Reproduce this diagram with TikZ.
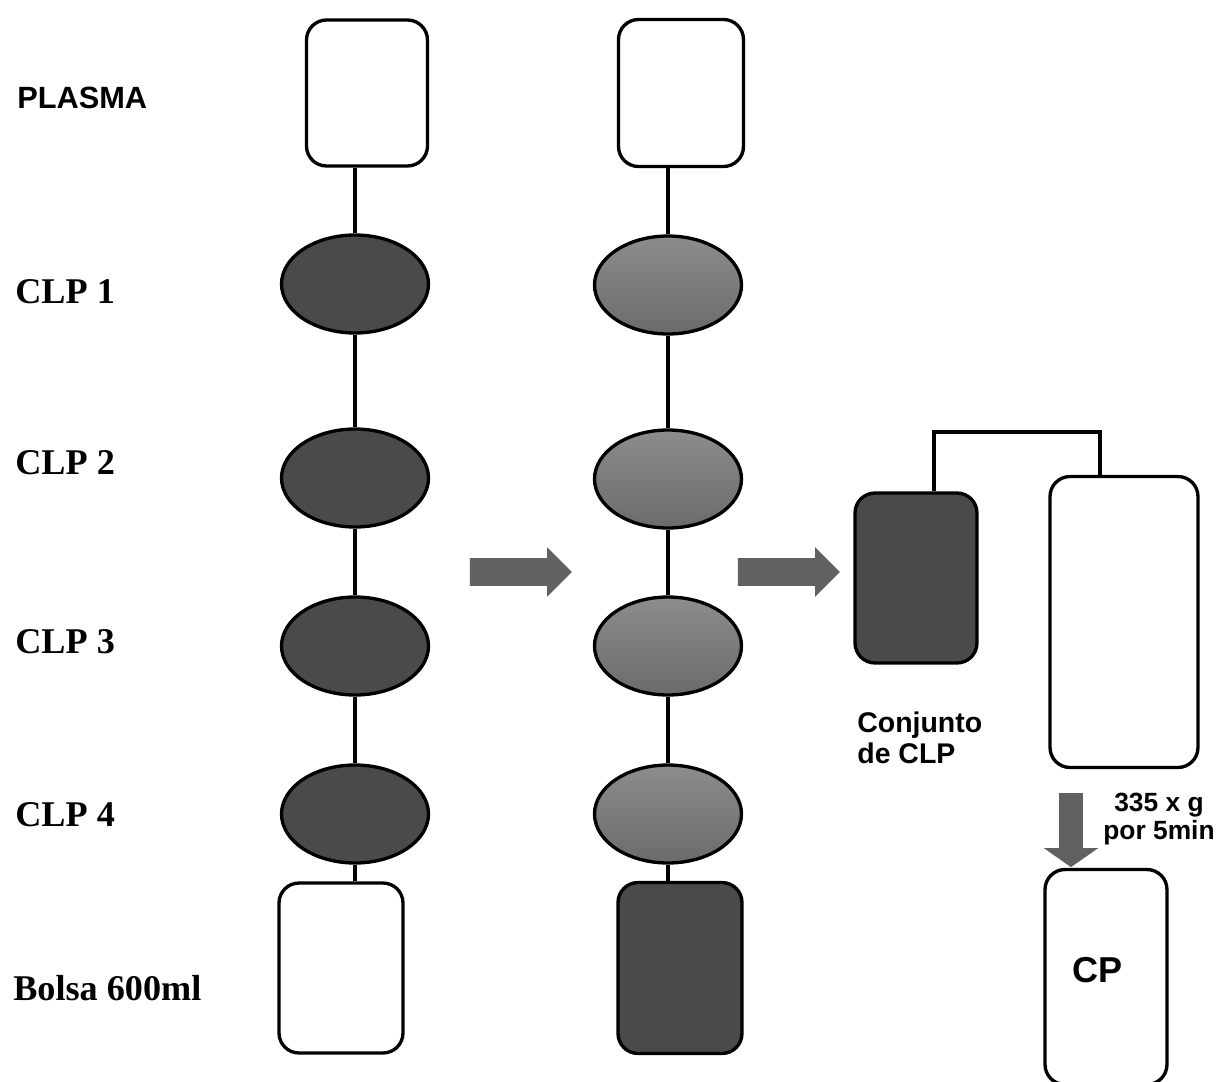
\documentclass[tikz,border=0pt]{standalone}
\usepackage{fontspec}
\setmainfont{Liberation Serif}
\setsansfont{Liberation Sans}
\usetikzlibrary{shapes.geometric,shapes.arrows}

\definecolor{clpdark}{gray}{0.29}
\definecolor{clptop}{gray}{0.55}
\definecolor{clpbottom}{gray}{0.42}
\definecolor{arrowgray}{gray}{0.38}

\tikzset{
  bag/.style={draw,line width=1.9pt,rounded corners=0.4cm,inner sep=0pt},
  clp/.style={draw,line width=1.9pt,ellipse,inner sep=0pt,
    minimum width=2.94cm,minimum height=1.96cm},
  fatarrow/.style={single arrow,fill=arrowgray,inner xsep=0pt,inner ysep=0.27cm,
    single arrow head extend=0.22cm,minimum height=2.04cm},
  rowlabel/.style={anchor=west,inner sep=0pt,font=\fontsize{20.6}{22}\selectfont\bfseries},
  tube/.style={line width=1.9pt}
}

\begin{document}
\begin{tikzpicture}[x=0.02cm,y=-0.02cm]
    \useasboundingbox (0,0) rectangle (1221,1082);

    % labels on the left
    \node[rowlabel,font=\sffamily\fontsize{17.5}{20}\selectfont\bfseries] (plasma) at (17,98) {PLASMA};
    \node[rowlabel] (clp1) at (15,292) {CLP 1};
    \node[rowlabel] (clp2) at (15,463) {CLP 2};
    \node[rowlabel] (clp3) at (15,642) {CLP 3};
    \node[rowlabel] (clp4) at (15,815) {CLP 4};
    \node[rowlabel] (bolsa) at (13,988) {Bolsa 600ml};

    % first column
    \node[bag,minimum width=2.42cm,minimum height=2.92cm] (plasmaA) at (367,93) {};
    \node[clp,fill=clpdark] (clpA1) at (355,284) {};
    \node[clp,fill=clpdark] (clpA2) at (355,478) {};
    \node[clp,fill=clpdark] (clpA3) at (355,646) {};
    \node[clp,fill=clpdark] (clpA4) at (355,814) {};
    \node[bag,minimum width=2.48cm,minimum height=3.4cm] (bolsaA) at (341,968) {};

    \draw[tube] (clpA1.north |- plasmaA.south) -- (clpA1.north);
    \draw[tube] (clpA1) -- (clpA2) -- (clpA3) -- (clpA4);
    \draw[tube] (clpA4.south) -- (clpA4.south |- bolsaA.north);

    % second column
    \node[bag,minimum width=2.5cm,minimum height=2.94cm] (plasmaB) at (681,93) {};
    \node[clp,top color=clptop,bottom color=clpbottom] (clpB1) at (668,285) {};
    \node[clp,top color=clptop,bottom color=clpbottom] (clpB2) at (668,479) {};
    \node[clp,top color=clptop,bottom color=clpbottom] (clpB3) at (668,646) {};
    \node[clp,top color=clptop,bottom color=clpbottom] (clpB4) at (668,814) {};
    \node[bag,fill=clpdark,minimum width=2.48cm,minimum height=3.42cm] (bolsaB) at (680,968) {};

    \draw[tube] (clpB1.north |- plasmaB.south) -- (clpB1.north);
    \draw[tube] (clpB1.south) -- (clpB2.north);
    \draw[tube] (clpB2.south) -- (clpB3.north);
    \draw[tube] (clpB3.south) -- (clpB4.north);
    \draw[tube] (clpB4.south) -- (clpB4.south |- bolsaB.north);

    % step arrows
    \node[fatarrow] (stepA) at (514,572) {};
    \node[fatarrow] (stepB) at (782,572) {};

    % pooling and centrifuge
    \node[bag,fill=clpdark,minimum width=2.44cm,minimum height=3.4cm] (pool) at (916,578) {};
    \node[bag,minimum width=2.96cm,minimum height=5.82cm] (big) at (1124,622) {};
    \coordinate (bend) at (934,432);
    \coordinate (drop) at (1100,432);
    \draw[tube] (pool.north -| bend) -- (bend) -- (drop) -- (drop |- big.north);

    \node[anchor=north west,inner sep=0pt,align=left,font=\sffamily\fontsize{16.2}{17.5}\selectfont\bfseries]
      (poollabel) at (857,712) {Conjunto\\de CLP};

    \node[fatarrow,rotate=-90,inner ysep=0.23cm,single arrow head extend=0.31cm,
      single arrow tip angle=110,minimum height=1.48cm] (spin) at (1071,826) {};
    \node[anchor=west,inner sep=0pt,align=center,font=\sffamily\fontsize{15}{16}\selectfont\bfseries]
      (spinlabel) at (1103,819) {335 x g\\por 5min};

    \node[bag,minimum width=2.44cm,minimum height=4.3cm] (cp) at (1106,977) {};
    \node[font=\sffamily\fontsize{20.5}{22}\selectfont\bfseries,inner sep=0pt] (cptext) at (1098,970) {CP};

\end{tikzpicture}
\end{document}
